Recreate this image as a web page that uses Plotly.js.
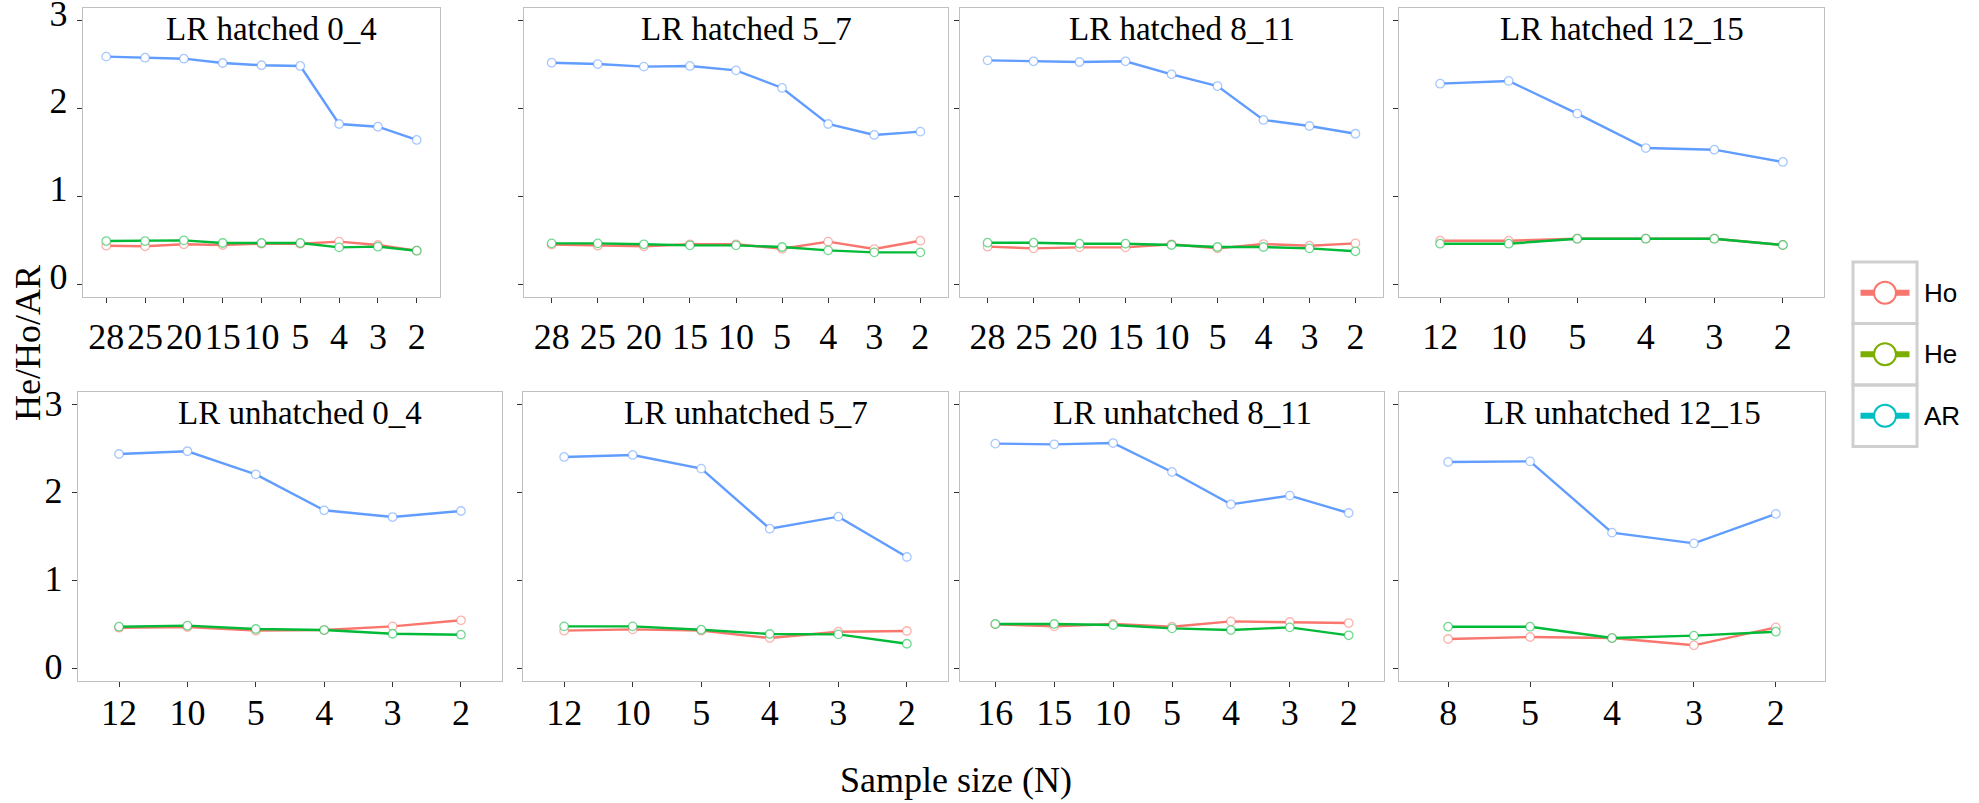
<!DOCTYPE html>
<html><head><meta charset="utf-8">
<script src="https://cdn.plot.ly/plotly-3.0.1.min.js"></script>
<style>html,body{margin:0;padding:0;background:#fff;} #chart{width:1979px;height:803px;}</style>
</head><body><div id="chart"></div>
<script>
// ---------- DATA ----------
const panelTitles = [
  "LR hatched 0_4", "LR hatched 5_7", "LR hatched 8_11", "LR hatched 12_15",
  "LR unhatched 0_4", "LR unhatched 5_7", "LR unhatched 8_11", "LR unhatched 12_15"
];
const sampleSizes = [
  ["28","25","20","15","10","5","4","3","2"],
  ["28","25","20","15","10","5","4","3","2"],
  ["28","25","20","15","10","5","4","3","2"],
  ["12","10","5","4","3","2"],
  ["12","10","5","4","3","2"],
  ["12","10","5","4","3","2"],
  ["16","15","10","5","4","3","2"],
  ["8","5","4","3","2"]
];
const hoValues = [
  [0.437,0.430,0.453,0.445,0.460,0.460,0.483,0.445,0.380],
  [0.449,0.437,0.430,0.453,0.453,0.403,0.483,0.399,0.494],
  [0.426,0.407,0.418,0.418,0.453,0.407,0.456,0.437,0.464],
  [0.494,0.494,0.517,0.517,0.517,0.445],
  [0.460,0.468,0.426,0.433,0.475,0.544],
  [0.426,0.441,0.426,0.342,0.414,0.422],
  [0.498,0.475,0.502,0.471,0.532,0.525,0.513],
  [0.331,0.354,0.342,0.259,0.464]
];
const heValues = [
  [0.490,0.490,0.498,0.468,0.468,0.468,0.418,0.426,0.380],
  [0.464,0.464,0.453,0.441,0.441,0.422,0.384,0.361,0.361],
  [0.471,0.471,0.460,0.460,0.445,0.422,0.422,0.407,0.373],
  [0.460,0.460,0.517,0.517,0.517,0.445],
  [0.471,0.483,0.445,0.433,0.391,0.380],
  [0.475,0.475,0.437,0.388,0.384,0.277],
  [0.502,0.502,0.490,0.452,0.433,0.464,0.373],
  [0.471,0.471,0.342,0.369,0.414]
];
const arValues = [
  [2.593,2.581,2.570,2.521,2.495,2.487,1.825,1.794,1.643],
  [2.524,2.509,2.479,2.487,2.437,2.236,1.825,1.700,1.738],
  [2.551,2.540,2.532,2.540,2.392,2.258,1.871,1.802,1.714],
  [2.285,2.316,1.943,1.551,1.532,1.392],
  [2.441,2.472,2.209,1.799,1.722,1.791],
  [2.407,2.430,2.274,1.589,1.726,1.266],
  [2.559,2.551,2.566,2.236,1.867,1.966,1.768],
  [2.350,2.357,1.544,1.422,1.757]
];
const seriesNames = ["Ho", "He", "AR"];
const yTickValues = [0, 1, 2, 3];
const xAxisTitle = "Sample size (N)";
const yAxisTitle = "He/Ho/AR";

// ---------- LAYOUT / STYLE ----------
const W = 1979, H = 803;
const panelBoxes = [ // [left, right, top, bottom] in pixels
  [83,440,8,297],[524,948,8,297],[960,1383,8,297],[1399,1824,8,297],
  [78,502,392,681],[523,948,392,681],[960,1384,392,681],[1399,1825,392,681]
];
const lineColors = {Ho: "#F8766D", He: "#00BA38", AR: "#619CFF"};
const markerEdge = {Ho: "rgba(248,118,109,0.55)", He: "rgba(0,186,56,0.55)", AR: "rgba(97,156,255,0.55)"};
const legendColors = {Ho: "#F8766D", He: "#7CAE00", AR: "#00BFC4"};
const serif = "Liberation Serif, Times New Roman, serif";
const sans = "Liberation Sans, Arial, sans-serif";
const px = x => x / W;
const py = y => 1 - y / H;

const traces = [];
const layout = {
  width: W, height: H,
  margin: {l: 0, r: 0, t: 0, b: 0},
  paper_bgcolor: "#fff", plot_bgcolor: "#fff",
  showlegend: false,
  annotations: [], shapes: []
};
const valuesBySeries = {Ho: hoValues, He: heValues, AR: arValues};
const drawOrder = ["AR", "Ho", "He"];

panelBoxes.forEach((b, i) => {
  const n = i + 1;
  const xa = "xaxis" + (n === 1 ? "" : n), ya = "yaxis" + (n === 1 ? "" : n);
  const xr = "x" + (n === 1 ? "" : n), yr = "y" + (n === 1 ? "" : n);
  const cats = sampleSizes[i];
  const topRow = i < 4;
  drawOrder.forEach(s => {
    traces.push({
      type: "scatter", mode: "lines+markers",
      x: cats, y: valuesBySeries[s][i], xaxis: xr, yaxis: yr,
      name: s, line: {color: lineColors[s], width: 2.4},
      marker: {symbol: "circle", size: 8.5, color: "#fff", line: {color: markerEdge[s], width: 1.3}},
      cliponaxis: false, hoverinfo: "skip"
    });
  });
  layout[xa] = {
    domain: [px(b[0]), px(b[1])], anchor: yr, type: "category",
    range: [-0.6, cats.length - 0.4],
    tickmode: "array", tickvals: cats, ticktext: cats, tickangle: 0,
    ticks: "outside", ticklen: 5, tickwidth: 1, tickcolor: "#333",
    ticklabelstandoff: topRow ? 2 : -6,
    showline: true, mirror: true, linecolor: "#c0c0c0", linewidth: 1.3,
    showgrid: false, zeroline: false, fixedrange: true,
    tickfont: {family: serif, size: 36, color: "#000"}
  };
  layout[ya] = {
    domain: [py(b[3]), py(b[2])], anchor: xr,
    range: [-0.148, 3.148],
    tickmode: "array", tickvals: yTickValues, ticktext: yTickValues.map(String),
    showticklabels: (i === 0 || i === 4),
    ticks: "outside", ticklen: 5, tickwidth: 1, tickcolor: "#333",
    ticklabelstandoff: 2, ticklabelshift: topRow ? -8 : -2,
    ticklabeloverflow: "allow",
    showline: true, mirror: true, linecolor: "#c0c0c0", linewidth: 1.3,
    showgrid: false, zeroline: false, fixedrange: true,
    tickfont: {family: serif, size: 36, color: "#000"}
  };
  layout.annotations.push({
    xref: "paper", yref: "paper", x: px((b[0] + b[1]) / 2 + 10), y: py(b[2] + 21),
    xanchor: "center", yanchor: "middle", showarrow: false,
    text: panelTitles[i], font: {family: serif, size: 33, color: "#000"}
  });
});

// axis titles
layout.annotations.push({
  xref: "paper", yref: "paper", x: px(956), y: py(780), xanchor: "center", yanchor: "middle",
  showarrow: false, text: xAxisTitle, font: {family: serif, size: 36, color: "#000"}
});
layout.annotations.push({
  xref: "paper", yref: "paper", x: px(28), y: py(343), xanchor: "center", yanchor: "middle",
  showarrow: false, textangle: -90, text: yAxisTitle, font: {family: serif, size: 36, color: "#000"}
});

// legend (drawn as key boxes)
const legLeft = 1853, legRight = 1917, legTop = 262, rowH = 61.5;
seriesNames.forEach((s, k) => {
  const top = legTop + k * rowH, bot = top + rowH, cy = (top + bot) / 2, cx = (legLeft + legRight) / 2;
  layout.shapes.push({type: "rect", xref: "paper", yref: "paper",
    x0: px(legLeft), x1: px(legRight), y0: py(bot), y1: py(top),
    line: {color: "#cfcfcf", width: 3}, fillcolor: "rgba(0,0,0,0)"});
  layout.shapes.push({type: "line", xref: "paper", yref: "paper",
    x0: px(cx - 24.5), x1: px(cx + 24.5), y0: py(cy), y1: py(cy),
    line: {color: legendColors[s], width: 6}});
  layout.shapes.push({type: "circle", xref: "paper", yref: "paper",
    x0: px(cx - 11), x1: px(cx + 11), y0: py(cy + 11), y1: py(cy - 11),
    line: {color: legendColors[s], width: 2}, fillcolor: "#fff"});
  layout.annotations.push({xref: "paper", yref: "paper", x: px(1922), y: py(cy),
    xanchor: "left", yanchor: "middle", showarrow: false, text: s,
    font: {family: sans, size: 26, color: "#000"}});
});

Plotly.newPlot("chart", traces, layout, {displayModeBar: false, staticPlot: true});
</script>
</body></html>
